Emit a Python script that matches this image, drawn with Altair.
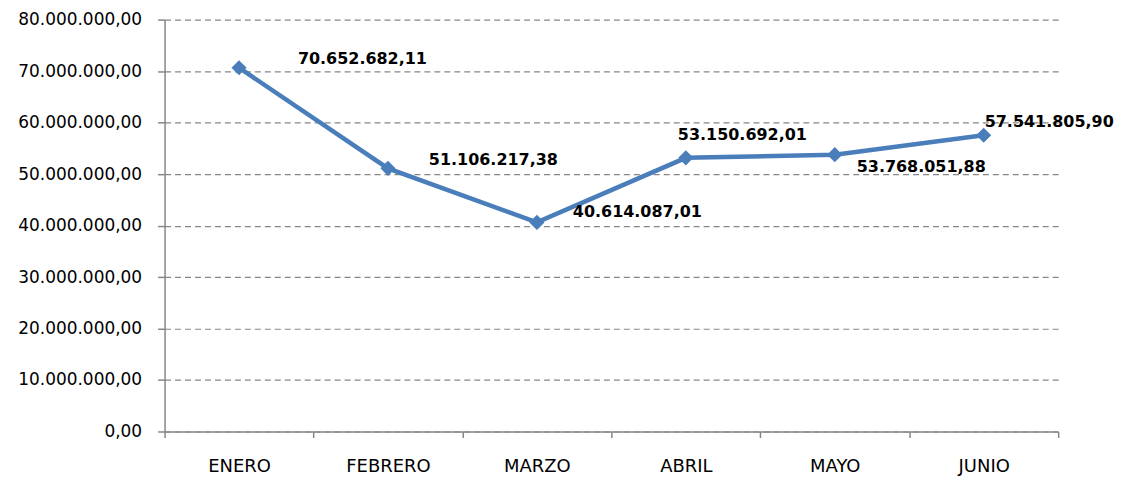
import altair as alt
import pandas as pd

months = ["ENERO", "FEBRERO", "MARZO", "ABRIL", "MAYO", "JUNIO"]
values = [70652682.11, 51106217.38, 40614087.01, 53150692.01, 53768051.88, 57541805.90]

df = pd.DataFrame({"mes": months, "valor": values})

LINE = "#4A7EBB"
GRAY = "#868686"


def es_fmt(field):
    # Spanish number style: 1.234.567,89
    return (
        "replace(replace(replace(format(" + field + ", ',.2f'), "
        "regexp(',', 'g'), '_'), regexp('[.]', 'g'), ','), regexp('_', 'g'), '.')"
    )


x_enc = alt.X(
    "mes:N",
    sort=months,
    title=None,
    scale=alt.Scale(paddingInner=0, paddingOuter=0),
    axis=alt.Axis(
        tickBand="extent",
        labelAngle=0,
        labelFont="DejaVu Sans",
        labelFontSize=18,
        labelColor="#000000",
        labelPadding=20,
        tickSize=6,
        tickColor=GRAY,
        tickWidth=1.5,
        domainColor=GRAY,
        domainWidth=1.5,
        grid=False,
    ),
)
y_enc = alt.Y(
    "valor:Q",
    title=None,
    scale=alt.Scale(domain=[0, 80000000], nice=False),
    axis=alt.Axis(
        values=list(range(0, 80000001, 10000000)),
        labelExpr=es_fmt("datum.value"),
        labelFont="DejaVu Sans",
        labelFontSize=17,
        labelColor="#000000",
        labelPadding=16,
        tickSize=7,
        tickColor=GRAY,
        tickWidth=1.5,
        domainColor=GRAY,
        domainWidth=1.5,
        grid=True,
        gridColor=GRAY,
        gridDash=[6, 4],
        gridWidth=1.2,
    ),
)

base = alt.Chart(df)

line = base.mark_line(color=LINE, strokeWidth=4.5).encode(x=x_enc, y=y_enc)
points = base.mark_point(
    shape="diamond", filled=True, size=230, color=LINE, opacity=1
).encode(x=x_enc, y=y_enc)

offsets = {
    "ENERO": (59, -9),
    "FEBRERO": (41, -8),
    "MARZO": (36, -10),
    "ABRIL": (-8, -23),
    "MAYO": (22, 12),
    "JUNIO": (1, -13),
}

label_layers = []
for m in months:
    dx, dy = offsets[m]
    label_layers.append(
        base.transform_filter(alt.datum.mes == m)
        .transform_calculate(etiqueta=es_fmt("datum.valor"))
        .mark_text(
            align="left",
            baseline="middle",
            dx=dx,
            dy=dy,
            font="DejaVu Sans",
            fontSize=16,
            fontWeight="bold",
            color="#000000",
        )
        .encode(
            x=alt.X("mes:N", sort=months),
            y=alt.Y("valor:Q"),
            text=alt.Text("etiqueta:N"),
        )
    )

chart = (
    alt.layer(line, points, *label_layers)
    .properties(
        width=896,
        height=413,
        autosize=alt.AutoSizeParams(type="none"),
        padding={"left": 157, "top": 11, "right": 60, "bottom": 44},
    )
    .configure(background="white")
    .configure_view(stroke=None)
)

chart.save("out.html", embed_options={"renderer": "svg", "actions": False})
